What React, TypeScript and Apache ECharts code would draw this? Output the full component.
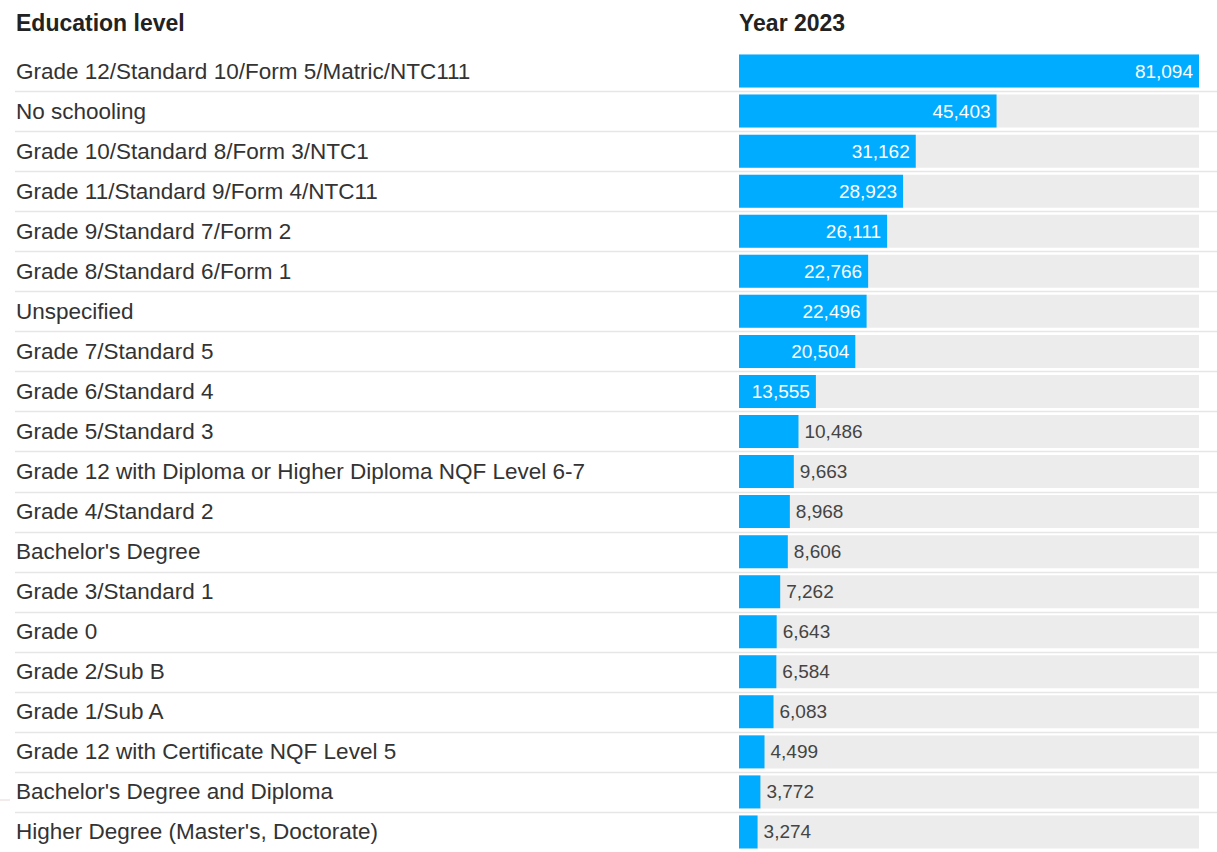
import React, { useEffect, useRef } from "react";
import * as echarts from "echarts";

const categories: string[] = [
  "Grade 12/Standard 10/Form 5/Matric/NTC111",
  "No schooling",
  "Grade 10/Standard 8/Form 3/NTC1",
  "Grade 11/Standard 9/Form 4/NTC11",
  "Grade 9/Standard 7/Form 2",
  "Grade 8/Standard 6/Form 1",
  "Unspecified",
  "Grade 7/Standard 5",
  "Grade 6/Standard 4",
  "Grade 5/Standard 3",
  "Grade 12 with Diploma or Higher Diploma NQF Level 6-7",
  "Grade 4/Standard 2",
  "Bachelor's Degree",
  "Grade 3/Standard 1",
  "Grade 0",
  "Grade 2/Sub B",
  "Grade 1/Sub A",
  "Grade 12 with Certificate NQF Level 5",
  "Bachelor's Degree and Diploma",
  "Higher Degree (Master's, Doctorate)",
];

const values2023: number[] = [
  81094, 45403, 31162, 28923, 26111, 22766, 22496, 20504, 13555, 10486,
  9663, 8968, 8606, 7262, 6643, 6584, 6083, 4499, 3772, 3274,
];

const headerLeft = "Education level";
const headerRight = "Year 2023";
const insideThreshold = 13000;

const FONT = "'Liberation Sans', Arial, Helvetica, sans-serif";

export default function App() {
  const ref = useRef<HTMLDivElement>(null);

  useEffect(() => {
    if (!ref.current) return;
    const chart = echarts.init(ref.current, null, { renderer: "svg" });
    const fmt = (v: number) => v.toLocaleString("en-US");

    const barData = values2023.map((v) => {
      const inside = v >= insideThreshold;
      return {
        value: v,
        label: {
          show: true,
          position: inside ? "insideRight" : "right",
          distance: 6,
          color: inside ? "#ffffff" : "#444444",
          fontSize: 19,
          fontFamily: FONT,
          formatter: () => fmt(v),
        },
      };
    });

    const sepData = categories.slice(0, -1).map((_, i) => [0, i]);

    chart.setOption({
      animation: false,
      backgroundColor: "#ffffff",
      title: [
        {
          text: headerLeft,
          left: 16,
          top: 11,
          padding: 0,
          textStyle: { fontFamily: FONT, fontSize: 23, fontWeight: "bold", color: "#222222" },
        },
        {
          text: headerRight,
          left: 739,
          top: 11,
          padding: 0,
          textStyle: { fontFamily: FONT, fontSize: 23, fontWeight: "bold", color: "#222222" },
        },
      ],
      grid: { left: 739, right: 18, top: 51, height: 805, containLabel: false },
      xAxis: { type: "value", min: 0, max: 81094, show: false },
      yAxis: {
        type: "category",
        inverse: true,
        data: categories,
        axisLine: { show: false },
        axisTick: { show: false },
        splitLine: { show: false },
        axisLabel: {
          align: "left",
          margin: 723,
          fontSize: 22.5,
          fontFamily: FONT,
          color: "#333333",
          padding: [0, 0, 3, 0],
        },
      },
      graphic: [
        {
          type: "line",
          shape: { x1: 0, y1: 800, x2: 10, y2: 800 },
          style: { stroke: "#e8d8d8", lineWidth: 1 },
        },
      ],
      series: [
        {
          type: "custom",
          clip: false,
          silent: true,
          encode: { x: 0, y: 1 },
          data: sepData,
          renderItem: (params: any, api: any) => {
            const c = api.coord([0, api.value(1)]);
            const h = api.size([0, 1])[1];
            const y = Math.round(c[1] + h / 2) + 0.5;
            return {
              type: "line",
              shape: { x1: 15, y1: y, x2: 1217, y2: y },
              style: { stroke: "#e6e6e6", lineWidth: 1.5 },
            };
          },
        },
        {
          type: "bar",
          data: barData,
          barWidth: 33,
          itemStyle: { color: "#00acff" },
          showBackground: true,
          backgroundStyle: { color: "#ececec" },
        },
      ],
    });

    return () => chart.dispose();
  }, []);

  return (
    <div
      ref={ref}
      style={{ position: "fixed", left: 0, top: 0, width: 1217, height: 852, background: "#fff" }}
    />
  );
}
